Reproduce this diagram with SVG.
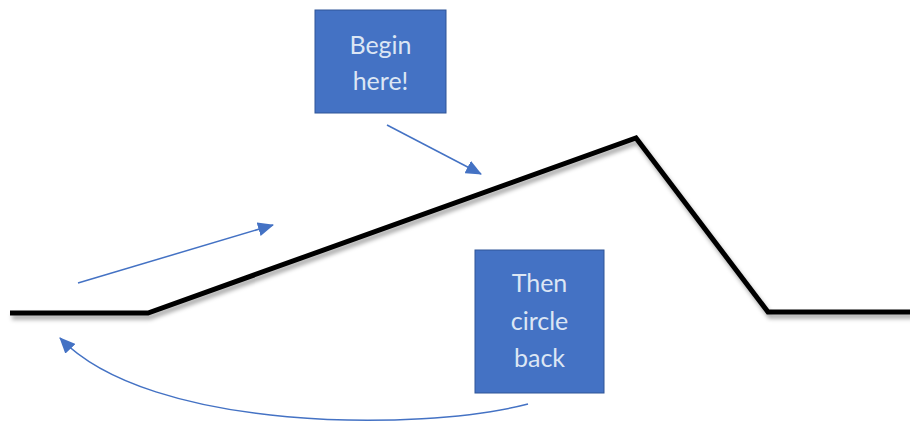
<svg xmlns="http://www.w3.org/2000/svg" width="910" height="427" viewBox="0 0 910 427">
  <defs>
    <marker id="ah" markerWidth="16" markerHeight="14" refX="15" refY="7" orient="auto" markerUnits="userSpaceOnUse" viewBox="0 0 16 14">
      <path d="M0,0 L16,7 L0,14 Z" fill="#4472c4"/>
    </marker>
    <filter id="sh" x="-5%" y="-20%" width="110%" height="140%">
      <feDropShadow dx="2" dy="4" stdDeviation="2" flood-color="#000" flood-opacity="0.35"/>
    </filter>
    <style>
      .box { fill: #4472c4; stroke: #2f5597; stroke-width: 1; }
      .lbl { font-family: Lato, "Open Sans", sans-serif; font-size: 25px; fill: #dce6f4; text-anchor: middle; }
      .conn { fill: none; stroke: #4472c4; stroke-width: 1.5; }
    </style>
  </defs>
  <rect width="910" height="427" fill="#ffffff"/>
  <g id="ground">
    <polyline points="10,313 148,313 636,138 768,312 912,312" fill="none" stroke="#000" stroke-width="5" stroke-linejoin="miter" filter="url(#sh)"/>
  </g>
  <g id="connectors">
    <line class="conn" x1="387" y1="125" x2="481" y2="174" marker-end="url(#ah)"/>
    <line class="conn" x1="78" y1="283" x2="273" y2="225" marker-end="url(#ah)"/>
    <path class="conn" d="M528,404 C420,432 150,432 60,338" marker-end="url(#ah)"/>
  </g>
  <g id="begin">
    <rect class="box" x="315" y="10" width="131" height="103"/>
    <text class="lbl" x="380.5" y="54">Begin</text>
    <text class="lbl" x="380.5" y="90">here!</text>
  </g>
  <g id="circleback">
    <rect class="box" x="475" y="250" width="129" height="143"/>
    <text class="lbl" x="539.5" y="292">Then</text>
    <text class="lbl" x="539.5" y="330">circle</text>
    <text class="lbl" x="539.5" y="367">back</text>
  </g>
</svg>
